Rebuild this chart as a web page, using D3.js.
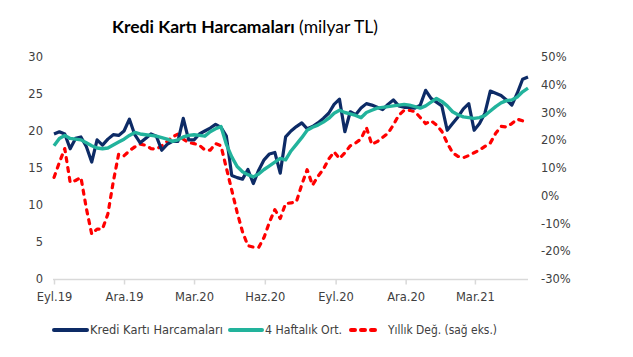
<!DOCTYPE html>
<html><head><meta charset="utf-8">
<script src="https://cdn.jsdelivr.net/npm/d3@7"></script>
<style>body{margin:0;background:#fff}svg{display:block}</style>
</head><body>
<script>
// ---- data ----
const startDate = new Date(2019, 8, 6);   // first weekly observation
const tickLabels = ["Eyl.19","Ara.19","Mar.20","Haz.20","Eyl.20","Ara.20","Mar.21"];
const leftTicks = [0,5,10,15,20,25,30];
const rightTicks = [-30,-20,-10,0,10,20,30,40,50];
const seriesNames = ["Kredi Kartı Harcamaları","4 Haftalık Ort.","Yıllık Değ. (sağ eks.)"];

const spending = [19.6,19.9,19.6,17.6,19.0,19.2,17.9,15.8,18.8,18.1,18.9,19.5,19.4,20.0,21.6,19.5,18.4,19.0,19.6,19.3,
17.4,18.2,18.6,18.6,21.7,18.8,18.8,19.6,20.0,20.4,20.9,20.5,19.3,14.0,13.7,13.5,14.8,12.9,14.7,16.1,
16.9,17.1,14.3,19.2,20.0,20.6,21.1,20.3,20.6,21.1,21.7,22.4,23.6,24.3,19.9,22.6,22.2,23.1,23.7,23.5,
23.2,22.9,23.6,24.2,23.4,23.2,23.2,23.1,23.5,25.5,24.4,23.9,23.4,20.1,21.0,21.9,23.0,23.7,20.1,21.0,
22.4,25.4,25.1,24.8,24.2,23.5,25.1,27.0,27.3];

const avg4w = [18.0,19.0,19.4,19.0,18.9,18.8,18.4,18.0,17.7,17.6,17.7,18.1,18.5,18.9,19.4,19.8,19.6,19.5,19.4,19.3,
19.1,18.9,18.6,18.8,19.2,19.4,19.5,19.4,19.3,19.9,20.3,20.6,18.2,16.5,15.2,14.5,14.1,13.8,14.2,14.8,
15.3,15.8,16.3,16.1,17.3,18.2,19.1,20.1,20.5,20.8,21.2,21.7,22.4,22.8,22.5,22.3,22.1,21.8,22.5,22.8,
23.1,23.2,23.3,23.4,23.5,23.6,23.5,23.3,23.1,23.4,23.9,24.4,24.0,23.4,22.6,22.2,21.9,21.8,21.7,21.8,
22.1,22.7,23.3,23.8,24.1,24.2,24.6,25.3,25.8];

const yoyChange = [6.6,12.0,17.0,4.8,5.5,6.6,-4.5,-13.8,-12.0,-12.0,-6.6,5.0,15.0,14.4,16.2,17.6,18.6,18.2,17.0,16.8,
18.0,19.6,21.2,22.2,20.4,19.2,18.8,18.2,16.5,16.4,18.8,18.0,10.0,2.0,-6.0,-13.0,-18.0,-18.5,-18.6,-15.0,
-9.5,-5.0,-8.2,-2.8,-2.6,-2.2,4.0,9.4,3.8,7.0,9.5,13.2,15.8,13.4,15.5,18.0,19.0,20.5,24.6,18.5,
19.5,21.0,22.5,25.5,29.0,30.8,30.8,30.3,28.2,26.0,27.0,25.5,23.2,19.0,15.5,14.2,13.7,14.5,15.5,16.5,
17.8,19.0,22.5,25.0,24.8,26.0,27.6,27.0];

// ---- layout ----
const W = 633, H = 357;
const colors = {navy:"#0d2b66", teal:"#22b39c", red:"#ff0000", axis:"#d9d9d9", text:"#404040"};
const font = "'DejaVu Sans', sans-serif";

const svg = d3.select("body").append("svg").attr("width", W).attr("height", H);

const dateAt = i => d3.timeDay.offset(startDate, 7 * i);
const lastDate = dateAt(spending.length - 1);
const x = d3.scaleTime().domain([startDate, lastDate]).range([54, 528]);
const yL = d3.scaleLinear().domain([0, 30]).range([279, 57]);
const yR = d3.scaleLinear().domain([-30, 50]).range([279, 57]);

// title (one text element, two styled runs, natural widths)
const title = svg.append("text").attr("x", 112).attr("y", 33)
  .attr("font-family", "Lato, 'Open Sans', sans-serif").attr("font-size", 17.5).attr("fill", "#000");
title.append("tspan").attr("font-weight", "bold").text("Kredi Kartı Harcamaları");
title.append("tspan").attr("font-weight", "normal").text(" (milyar TL)");

// left axis labels
svg.append("g").selectAll("text").data(leftTicks).join("text")
  .attr("x", 43).attr("y", d => yL(d)).attr("dy", "0.35em")
  .attr("text-anchor", "end").attr("font-family", font).attr("font-size", 11.5)
  .attr("fill", colors.text).text(d => d);

// right axis labels
svg.append("g").selectAll("text").data(rightTicks).join("text")
  .attr("x", 541).attr("y", d => yR(d)).attr("dy", "0.35em")
  .attr("text-anchor", "start").attr("font-family", font).attr("font-size", 11.5)
  .attr("fill", colors.text).text(d => d + "%");

// x axis
const tickDates = tickLabels.map((_, k) => d3.timeMonth.offset(startDate, 3 * k));
const xAxis = d3.axisBottom(x).tickValues(tickDates)
  .tickFormat((d, k) => tickLabels[k]).tickSize(5).tickSizeOuter(0);
const gx = svg.append("g").attr("transform", `translate(0,${yL(0) + 0.5})`).call(xAxis);
gx.select(".domain").attr("stroke", colors.axis).attr("stroke-width", 1.5)
  .attr("d", `M53,0H528`);
gx.selectAll(".tick line").attr("stroke", colors.axis).attr("stroke-width", 1.5);
gx.selectAll(".tick text").attr("font-family", font).attr("font-size", 11.5)
  .attr("fill", colors.text).attr("dy", "1.2em");

// lines
const lineL = d3.line().x((d, i) => x(dateAt(i))).y(d => yL(d));
const lineR = d3.line().x((d, i) => x(dateAt(i))).y(d => yR(d));

svg.append("path").datum(yoyChange).attr("d", lineR).attr("fill", "none")
  .attr("stroke", colors.red).attr("stroke-width", 3.2)
  .attr("stroke-dasharray", "4,6").attr("stroke-linecap", "round").attr("stroke-linejoin", "round");
svg.append("path").datum(spending).attr("d", lineL).attr("fill", "none")
  .attr("stroke", colors.navy).attr("stroke-width", 3.2).attr("stroke-linejoin", "round");
svg.append("path").datum(avg4w).attr("d", lineL).attr("fill", "none")
  .attr("stroke", colors.teal).attr("stroke-width", 3.4).attr("stroke-linejoin", "round");

// legend
const legend = [
  {name: seriesNames[0], color: colors.navy, x1: 54, x2: 87, tx: 90, tw: 133, dash: null},
  {name: seriesNames[1], color: colors.teal, x1: 230, x2: 262, tx: 265, tw: 77, dash: null},
  {name: seriesNames[2], color: colors.red, x1: 351, x2: 381, tx: 388, tw: 109, dash: "4,6"}
];
const lg = svg.append("g");
legend.forEach(l => {
  lg.append("line").attr("x1", l.x1).attr("x2", l.x2).attr("y1", 330).attr("y2", 330)
    .attr("stroke", l.color).attr("stroke-width", 4).attr("stroke-linecap", "round")
    .attr("stroke-dasharray", l.dash);
  lg.append("text").attr("x", l.tx).attr("y", 330).attr("dy", "0.35em")
    .attr("font-family", font).attr("font-size", 11.5).attr("fill", colors.text)
    .attr("textLength", l.tw).attr("lengthAdjust", "spacingAndGlyphs").text(l.name);
});
</script>
</body></html>
